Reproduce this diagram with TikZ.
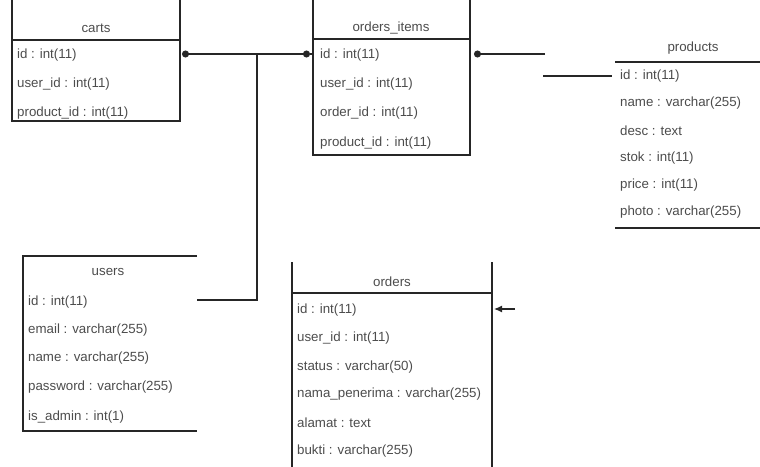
\documentclass[tikz,border=0pt]{standalone}
\usepackage{fontspec}
\setmainfont{Liberation Sans}
\usetikzlibrary{arrows.meta}
\begin{document}
\begin{tikzpicture}[x=1pt,y=-1pt,
  fld/.style={anchor=west, inner sep=0pt, font=\fontsize{13.3}{15}\selectfont, text=black!70},
  hdr/.style={inner sep=0pt, font=\fontsize{13.3}{15}\selectfont, text=black!70},
  border/.style={line width=1.4pt, black!85},
  conn/.style={line width=1.2pt, black!85},
  dot/.style={-{Circle[length=7pt,width=7pt]}},
  tip/.style={-{Latex[length=8pt,width=7pt]}}]
\useasboundingbox (0,0) rectangle (760,466);
\clip (0,0) rectangle (760,466);
% ---------- carts
\draw[border] (12,-5) -- (12,121) -- (180,121) -- (180,-5);
\draw[border] (12,40) -- (180,40);
\node[hdr] (cartsH) at (96,28) {carts};
\node[fld] (carts1) at (17,55) {id : int(11)};
\node[fld] (carts2) at (17,84) {user\_id : int(11)};
\node[fld] (carts3) at (17,113) {product\_id : int(11)};
% ---------- orders_items
\draw[border] (313,-5) -- (313,155) -- (470,155) -- (470,-5);
\draw[border] (313,39) -- (470,39);
\node[hdr] (oiH) at (391,28) {orders\_items};
\node[fld] (oi1) at (320,55) {id : int(11)};
\node[fld] (oi2) at (320,84) {user\_id : int(11)};
\node[fld] (oi3) at (320,113) {order\_id : int(11)};
\node[fld] (oi4) at (320,143) {product\_id : int(11)};
% ---------- products
\draw[border] (615,62) -- (770,62);
\draw[border] (615,228) -- (770,228);
\node[hdr] (prH) at (693,48) {products};
\node[fld] (pr1) at (620,76) {id : int(11)};
\node[fld] (pr2) at (620,103) {name : varchar(255)};
\node[fld] (pr3) at (620,131) {desc : text};
\node[fld] (pr4) at (620,158) {stok : int(11)};
\node[fld] (pr5) at (620,185) {price : int(11)};
\node[fld] (pr6) at (620,212) {photo : varchar(255)};
% ---------- users
\draw[border] (197,256) -- (23,256) -- (23,431) -- (197,431);
\node[hdr] (usH) at (108,272) {users};
\node[fld] (us1) at (28,302) {id : int(11)};
\node[fld] (us2) at (28,330) {email : varchar(255)};
\node[fld] (us3) at (28,358) {name : varchar(255)};
\node[fld] (us4) at (28,387) {password : varchar(255)};
\node[fld] (us5) at (28,417) {is\_admin : int(1)};
% ---------- orders
\draw[border] (292,262) -- (292,470);
\draw[border] (492,262) -- (492,470);
\draw[border] (292,293) -- (492,293);
\node[hdr] (orH) at (392,282) {orders};
\node[fld] (or1) at (297,310) {id : int(11)};
\node[fld] (or2) at (297,338) {user\_id : int(11)};
\node[fld] (or3) at (297,367) {status : varchar(50)};
\node[fld] (or4) at (297,394) {nama\_penerima : varchar(255)};
\node[fld] (or5) at (297,423) {alamat : text};
\node[fld] (or6) at (297,451) {bukti : varchar(255)};
% ---------- connector points
\coordinate (j) at (257,54);
\coordinate (jb) at (257,300);
\coordinate (cartsE) at (182,54);
\coordinate (oiW) at (310,54);
\coordinate (oiWb) at (313,54);
\coordinate (oiE) at (474,54);
\coordinate (usE) at (197,300);
\coordinate (pa) at (545,54);
\coordinate (pb) at (543,76);
\coordinate (prW) at (612,76);
\coordinate (oa) at (515,309);
\coordinate (orE) at (494,309);
% ---------- connectors
\draw[conn,dot] (j) -- (cartsE);
\draw[conn,dot] (j) -- (oiW);
\draw[conn] (oiW) -- (oiWb);
\draw[conn] (j) -- (jb) -- (usE);
\draw[conn,dot] (pa) -- (oiE);
\draw[conn] (pb) -- (prW);
\draw[conn,tip] (oa) -- (orE);
\end{tikzpicture}
\end{document}
